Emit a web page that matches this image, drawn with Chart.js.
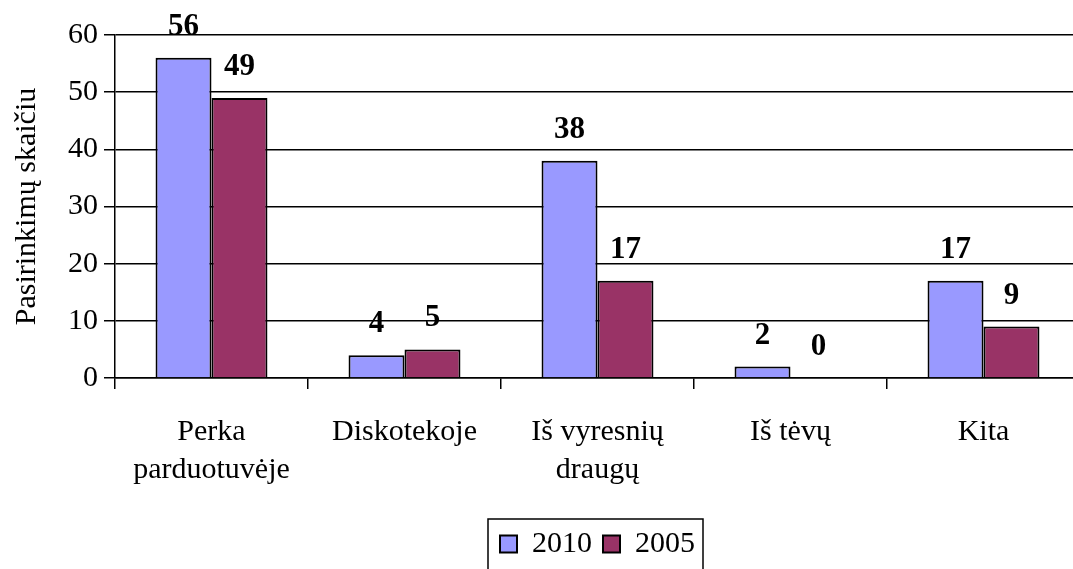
<!DOCTYPE html>
<html>
<head>
<meta charset="utf-8">
<script src="https://cdn.jsdelivr.net/npm/chart.js@4/dist/chart.umd.min.js"></script>
<style>
  html, body { margin: 0; padding: 0; background: #fff; overflow: hidden; }
  #wrap { width: 1080px; height: 569px; }
</style>
</head>
<body>
<div id="wrap"><canvas id="barChart"></canvas></div>
<script>
// data
var categories = [['Perka', 'parduotuvėje'], 'Diskotekoje', ['Iš vyresnių', 'draugų'], 'Iš tėvų', 'Kita'];
var values2010 = [56, 4, 38, 2, 17];
var values2005 = [49, 5, 17, 0, 9];
var yTicks = [0, 10, 20, 30, 40, 50, 60];

var serif = "'Liberation Serif', 'Times New Roman', serif";

// bold numbers above each bar
var valueLabels = {
    id: 'valueLabels',
    afterDatasetsDraw: function(chart) {
        var ctx = chart.ctx;
        ctx.save();
        ctx.font = 'bold 31px ' + serif;
        ctx.fillStyle = '#000';
        ctx.textAlign = 'center';
        ctx.textBaseline = 'alphabetic';
        chart.data.datasets.forEach(function(ds, i) {
            var meta = chart.getDatasetMeta(i);
            meta.data.forEach(function(bar, j) {
                ctx.fillText(ds.data[j], bar.x, bar.y - 23);
            });
        });
        ctx.restore();
    }
};

// frame round the legend
var legendFrame = {
    id: 'legendFrame',
    afterDraw: function(chart) {
        var boxes = chart.legend.legendHitBoxes;
        if (!boxes || !boxes.length) return;
        var l = Infinity, r = -Infinity, t = Infinity, b = -Infinity;
        boxes.forEach(function(h) {
            l = Math.min(l, h.left); r = Math.max(r, h.left + h.width);
            t = Math.min(t, h.top); b = Math.max(b, h.top + h.height);
        });
        var ctx = chart.ctx;
        ctx.save();
        ctx.strokeStyle = '#000';
        ctx.lineWidth = 1.5;
        ctx.strokeRect(l - 12, t - 10, (r - l) + 20, (b - t) + 30);
        ctx.restore();
    }
};

var ctx = document.getElementById('barChart').getContext('2d');
var chart = new Chart(ctx, {
    type: 'bar',
    data: {
        labels: categories,
        datasets: [{
            label: '2010',
            data: values2010,
            backgroundColor: '#9999FF',
            borderColor: '#000',
            borderWidth: 2,
            categoryPercentage: 0.58,
            barPercentage: 1
        }, {
            label: '2005',
            data: values2005,
            backgroundColor: '#993366',
            borderColor: '#000',
            borderWidth: 2,
            categoryPercentage: 0.58,
            barPercentage: 1
        }]
    },
    options: {
        responsive: true,
        maintainAspectRatio: false,
        animation: false,
        layout: { padding: { top: 35, left: 0, right: 0, bottom: 0 } },
        plugins: {
            legend: {
                display: true,
                position: 'bottom',
                fullSize: false,
                labels: {
                    font: { family: serif, size: 30 },
                    color: '#000',
                    boxWidth: 17,
                    boxHeight: 17,
                    padding: 11
                }
            },
            tooltip: { enabled: false },
            title: { display: false }
        },
        scales: {
            x: {
                grid: {
                    display: true,
                    drawOnChartArea: false,
                    drawTicks: true,
                    tickLength: 11,
                    color: '#000',
                    lineWidth: 1.5,
                    offset: true
                },
                border: { display: true, color: '#000', width: 1.5 },
                ticks: {
                    font: { family: serif, size: 30, lineHeight: 1.27 },
                    color: '#000',
                    padding: 24,
                    maxRotation: 0,
                    autoSkip: false
                },
                afterFit: function(scale) { scale.height = 140; }
            },
            y: {
                min: 0,
                max: 60,
                afterBuildTicks: function(scale) {
                    scale.ticks = yTicks.map(function(v) { return { value: v }; });
                },
                grid: {
                    color: '#000',
                    lineWidth: 1.5,
                    drawTicks: true,
                    tickLength: 11
                },
                border: { display: true, color: '#000', width: 1.5 },
                ticks: {
                    font: { family: serif, size: 30 },
                    color: '#000',
                    padding: 6
                },
                title: {
                    display: true,
                    text: 'Pasirinkimų skaičiu',
                    font: { family: serif, size: 30 },
                    color: '#000',
                    padding: { top: 9, bottom: 0 }
                },
                afterFit: function(scale) { scale.width = 115; }
            }
        }
    },
    plugins: [valueLabels, legendFrame]
});
</script>
</body>
</html>
